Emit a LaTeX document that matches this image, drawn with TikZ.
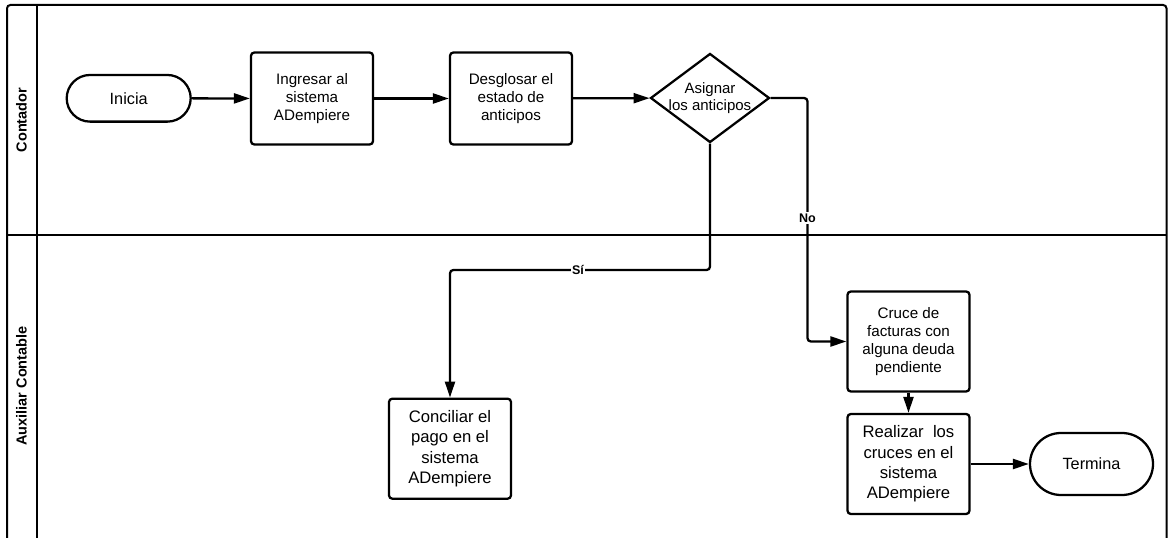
\documentclass[tikz,border=0pt]{standalone}
\usepackage{fontspec}
\setmainfont{Liberation Sans}
\usetikzlibrary{arrows.meta}
\usetikzlibrary{shapes.geometric}

\begin{document}
\begin{tikzpicture}[x=0.75pt,y=-0.75pt,
    process/.style={
% The shape:
rectangle, rounded corners=2.5pt,
% The size:
minimum width=91.5pt, minimum height=75pt, inner sep=2pt,
% The border:
line width=1.7pt, draw, align=center,
font=\fontsize{12.5}{15.2}\selectfont,
},
    smalltext/.style={font=\fontsize{11.4}{13.7}\selectfont},
    terminal/.style={
% The shape:
rectangle, rounded corners=17.5pt,
% The size:
minimum width=93pt, minimum height=35pt,
% The border:
line width=1.7pt, draw,
font=\fontsize{12.2}{14}\selectfont,
},
    decision/.style={diamond, draw, line width=1.7pt,
                     minimum width=89.25pt, minimum height=66.75pt, inner sep=0pt},
    flow/.style={line width=1.7pt, rounded corners=2.5pt,
                 -{Triangle[length=12pt,width=7.5pt]}},
    flowlabel/.style={fill=white, inner sep=1pt, font=\bfseries\fontsize{9.4}{11}\selectfont},
    lane/.style={line width=1.5pt},
    lanetitle/.style={rotate=90, font=\bfseries\fontsize{10.9}{13}\selectfont},
]
  \useasboundingbox (0,0) rectangle (1168,538);

  % lanes
  \draw[lane, rounded corners=2.5pt] (7,538) -- (7,5) -- (1166.5,5) -- (1166.5,538);
  \draw[lane] (37,5) -- (37,538);
  \draw[lane] (7,235) -- (1166.5,235);
  \node[lanetitle] (contador) at (21.5,120) {Contador};
  \node[lanetitle] (auxiliar) at (21.5,386) {Auxiliar Contable};

  % steps
  \node[terminal] (inicia) at (128.7,98.3) {Inicia};
  \node[process, smalltext, minimum height=69pt] (ingresar) at (312,98.5) {Ingresar al\\sistema\\ADempiere};
  \node[process, smalltext, minimum height=69pt] (desglosar) at (511,98.5) {Desglosar el\\estado de\\anticipos};
  \node[decision] (asignar) at (710,98) {};
  \node[align=center, font=\fontsize{11.25}{13.3}\selectfont] (asignartxt) at (asignar) {Asignar\\los anticipos};
  \node[process] (conciliar) at (450,448.7) {Conciliar el\\pago en el\\sistema\\ADempiere};
  \node[process, smalltext] (cruce) at (908.5,341.5) {Cruce de\\facturas con\\alguna deuda\\pendiente};
  \node[process] (realizar) at (908.5,464) {Realizar\ \ los\\cruces en el\\sistema\\ADempiere};
  \node[terminal, minimum width=92.25pt, minimum height=46.5pt, rounded corners=23.25pt] (termina) at (1091.5,464) {Termina};

  \coordinate (sielbow) at (450,270);
  \coordinate (noelbow) at (807.5,341.5);

  % connectors
  \draw[flow] (inicia) -- (ingresar);
  \draw[flow] (ingresar) -- (desglosar);
  \draw[flow] (desglosar) -- (asignar);
  \draw[flow] (asignar.south) |- (sielbow) -- (conciliar.north);
  \draw[flow] (asignar.east) -| (noelbow) -- (cruce.west);
  \draw[flow] (cruce) -- (realizar);
  \draw[flow] (realizar) -- (termina);
  \node[flowlabel] (si) at (578,270) {Sí};
  \node[flowlabel] (no) at (807.5,218) {No};

\end{tikzpicture}
\end{document}
